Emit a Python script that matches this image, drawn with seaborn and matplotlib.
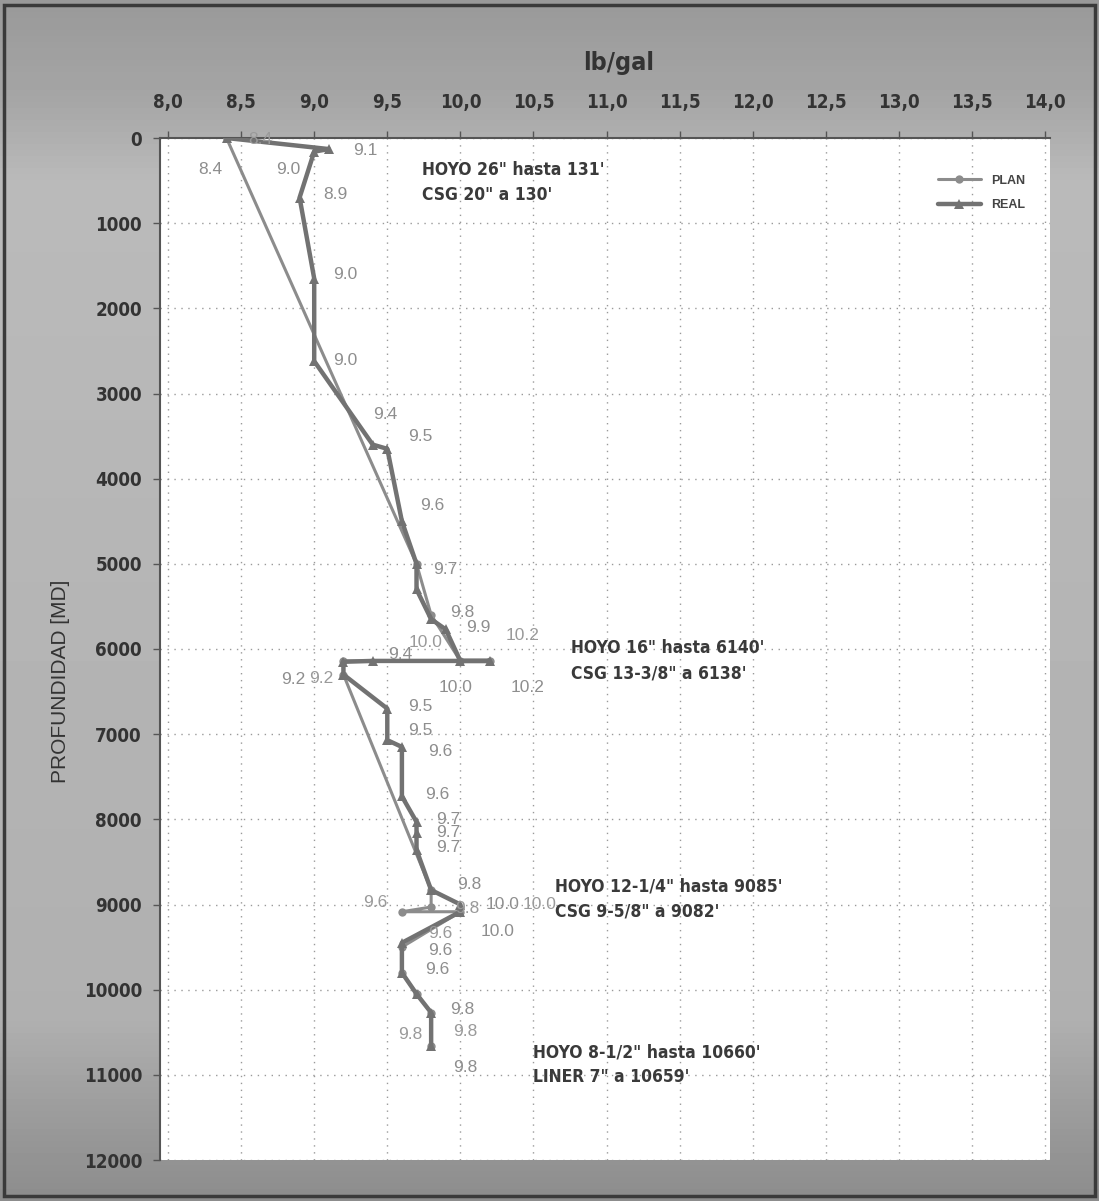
import matplotlib
matplotlib.use('Agg')
import matplotlib.pyplot as plt
from matplotlib import font_manager as fm
import numpy as np
import pandas as pd
import seaborn as sns
from matplotlib.patches import Rectangle

# ================ DATA ====================
# REAL mud weight (lb/gal) vs measured depth (ft)
real_depth = [0, 130, 160, 700, 1650, 2620, 3600, 3650, 4500, 5000, 5300, 5650, 5770,
              6140, 6140, 6140, 6150, 6300, 6700, 7070, 7150, 7730, 8030, 8160, 8360,
              8830, 9000, 9085, 9450, 9800, 10050, 10270, 10660]
real_mw = [8.4, 9.1, 9.0, 8.9, 9.0, 9.0, 9.4, 9.5, 9.6, 9.7, 9.7, 9.8, 9.9,
           10.0, 10.2, 9.4, 9.2, 9.2, 9.5, 9.5, 9.6, 9.6, 9.7, 9.7, 9.7,
           9.8, 10.0, 10.0, 9.6, 9.6, 9.7, 9.8, 9.8]

# PLAN mud weight
plan_depth = [0, 5000, 5600, 6140, 6140, 6140, 6300, 8830, 9030, 9085, 9085,
              9500, 9800, 10050, 10270, 10660]
plan_mw = [8.4, 9.7, 9.8, 10.0, 10.2, 9.2, 9.2, 9.8, 9.8, 9.6, 10.0,
           9.6, 9.6, 9.7, 9.8, 9.8]

# casing notes
note_depth = [520, 6140, 8940, 10880]
note_x = [9.74, 10.76, 10.65, 10.5]
note_text = ['HOYO 26" hasta 131\'\nCSG 20" a 130\'',
             'HOYO 16" hasta 6140\'\nCSG 13-3/8" a 6138\'',
             'HOYO 12-1/4" hasta 9085\'\nCSG 9-5/8" a 9082\'',
             'HOYO 8-1/2" hasta 10660\'\nLINER 7" a 10659\'']

x_ticks = np.arange(8.0, 14.01, 0.5)
y_ticks = np.arange(0, 12001, 1000)

# label offsets in pixels (None = no label)
real_off = [(-16, -32), (36, -1), (-26, -18), (36, 3), (31, 4), (31, 1), (13, 30), (33, 12),
            (30, 16), (29, -6), None, (31, 7), (33, 2),
            (-5, -27), (38, -27), (28, 6), (-50, -18), None, (33, 2), (33, 10), (38, -5),
            (35, 2), (32, 2), (32, 0), (32, 2),
            (38, 6), (42, 0), (37, -20), (38, -8), (35, 3), None, (31, 3), (34, -22)]
plan_off = [(34, -2), None, None, (-35, 18), (33, 25), (-22, -18), None, None, (36, -1),
            (-27, 9), (79, 7), (38, 14), None, None, (34, -19), (-21, 11)]

# =============== PLOT ====================
sns.set_style('white')
names = {f.name for f in fm.fontManager.ttflist}
if 'Liberation Sans Narrow' in names:
    narrow = dict(family='Liberation Sans Narrow')
else:
    narrow = dict(family='DejaVu Sans', stretch='condensed')
plt.rcParams['font.family'] = ['Liberation Sans', 'DejaVu Sans']

fig = plt.figure(figsize=(10.99, 12.01), dpi=100)

# scanned grey background
bg = fig.add_axes([0, 0, 1, 1], zorder=-5)
rows = np.linspace(0, 1, 200)
shade = np.interp(rows, [0, 0.08, 0.15, 0.5, 0.85, 0.93, 1],
                  [0.60, 0.65, 0.73, 0.71, 0.69, 0.61, 0.55])
bg.imshow(np.tile(shade[:, None], (1, 10)), cmap='gray', vmin=0, vmax=1,
          aspect='auto', extent=[0, 1, 0, 1], origin='upper')
bg.set_axis_off()
fig.patches.append(Rectangle((0.004, 0.004), 0.992, 0.992, transform=fig.transFigure,
                             fill=False, edgecolor='#3a3a3a', lw=2.5))

ax = fig.add_axes([160 / 1099, 1 - 1160 / 1201, 890 / 1099, 1022 / 1201])
ax.set_facecolor('white')

df_real = pd.DataFrame({'mw': real_mw, 'depth': real_depth})
df_plan = pd.DataFrame({'mw': plan_mw, 'depth': plan_depth})

sns.lineplot(data=df_plan, x='mw', y='depth', sort=False, estimator=None, ax=ax,
             color='#8c8c8c', lw=2.2, marker='o', markersize=6, markeredgewidth=0,
             label='PLAN', zorder=3)
sns.lineplot(data=df_real, x='mw', y='depth', sort=False, estimator=None, ax=ax,
             color='#727272', lw=3.2, marker='^', markersize=7, markeredgewidth=0,
             label='REAL', zorder=4)

for v, d, off in zip(real_mw, real_depth, real_off):
    if off is None:
        continue
    ax.annotate(f'{v:.1f}', (v, d), xytext=off, textcoords='offset pixels',
                ha='center', va='center', fontsize=12.5, color='#8e8e8e', zorder=5)
for v, d, off in zip(plan_mw, plan_depth, plan_off):
    if off is None:
        continue
    ax.annotate(f'{v:.1f}', (v, d), xytext=off, textcoords='offset pixels',
                ha='center', va='center', fontsize=12.5, color='#9a9a9a', zorder=5,
                annotation_clip=False)

# casing notes
for nx, d, txt in zip(note_x, note_depth, note_text):
    ax.text(nx, d, txt, ha='left', va='center', fontsize=12.5, fontweight='bold',
            color='#3a3a3a', linespacing=1.5, **narrow)

# 8.0 sits a little inside the frame, 14.0 near the right edge
ax.set_xlim(7.945, 14.034)
ax.set_ylim(12000, 0)
ax.xaxis.tick_top()
ax.set_xticks(x_ticks)
ax.set_xticklabels([f'{t:.1f}'.replace('.', ',') for t in x_ticks], fontweight='bold',
                   fontsize=13.5, color='#333333', **narrow)
ax.set_yticks(y_ticks)
ax.set_yticklabels([str(t) for t in y_ticks], fontweight='bold',
                   fontsize=13.5, color='#333333', **narrow)
ax.tick_params(axis='both', length=5, width=1, color='#555555')
ax.tick_params(axis='x', top=True, bottom=False, pad=14)
ax.tick_params(axis='y', left=True, pad=8)

ax.grid(True, ls=(0, (1, 4)), color='#9a9a9a', lw=1)
for s in ['right', 'bottom']:
    ax.spines[s].set_visible(False)
for s in ['top', 'left']:
    ax.spines[s].set_color('#555555')
    ax.spines[s].set_linewidth(1.5)

ax.set_xlabel('lb/gal', fontsize=18, fontweight='bold', color='#333333', **narrow)
ax.xaxis.set_label_position('top')
ax.xaxis.set_label_coords(0.515, 1.067)
ax.set_ylabel('PROFUNDIDAD [MD]', fontsize=15, color='#333333')
ax.yaxis.set_label_coords(-0.101, 0.468)

leg = ax.legend(loc='upper right', bbox_to_anchor=(0.985, 0.975), frameon=False,
                fontsize=9, handlelength=3.5, labelspacing=1.0)
for t in leg.get_texts():
    t.set_color('#444444')
    t.set_fontweight('bold')

fig.savefig('out.png', dpi=100)
